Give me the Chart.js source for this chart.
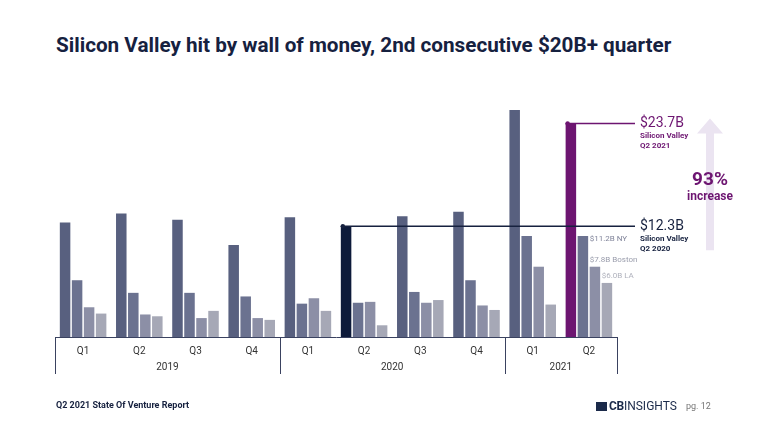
<!DOCTYPE html>
<html>
<head>
<meta charset="utf-8">
<script src="https://cdn.jsdelivr.net/npm/chart.js"></script>
<style>
  body { margin: 0; background: #fff; font-family: Roboto, sans-serif; }
  #wrap { position: relative; width: 768px; height: 432px; overflow: hidden; }
  #title { position: absolute; left: 56px; top: 33px; font-size: 20.7px; font-weight: 700; color: #16213f; white-space: nowrap; }
  #foot { position: absolute; left: 56px; top: 400px; font-size: 9px; font-weight: 700; color: #16213f; }
  #logo { position: absolute; left: 596px; top: 399px; font-size: 12px; color: #1b2a4a; white-space: nowrap; }
  #logo b { letter-spacing: -0.3px; }
  #logo .sq { display: inline-block; width: 11px; height: 9px; background: #1b2a4a; vertical-align: -1px; margin-right: 2px; }
  #pg { position: absolute; left: 686px; top: 401px; font-size: 9px; color: #777; }
  canvas { position: absolute; left: 0; top: 0; }
</style>
</head>
<body>
<div id="wrap">
  <div id="title">Silicon Valley hit by wall of money, 2nd consecutive $20B+ quarter</div>
  <canvas id="myChart" width="768" height="432"></canvas>
  <div id="foot">Q2 2021 State Of Venture Report</div>
  <div id="logo"><span class="sq"></span><b>CB</b>INSIGHTS</div>
  <div id="pg">pg. 12</div>
</div>
<script>
// data ($B)
const quarters = ['Q1', 'Q2', 'Q3', 'Q4', 'Q1', 'Q2', 'Q3', 'Q4', 'Q1', 'Q2'];
const years = ['2019', '2020', '2021'];
const yearSpans = [4, 4, 2];
const siliconValley = [12.7, 13.7, 13.0, 10.2, 13.3, 12.3, 13.4, 13.9, 25.2, 23.7];
const newYork = [6.3, 4.9, 4.9, 4.5, 3.7, 3.8, 5.0, 6.3, 11.2, 11.2];
const boston = [3.3, 2.5, 2.1, 2.1, 4.3, 3.9, 3.8, 3.5, 7.8, 7.8];
const losAngeles = [2.6, 2.3, 2.9, 1.9, 2.9, 1.3, 4.1, 3.0, 3.6, 6.0];
const cityNames = ['NY', 'Boston', 'LA'];

const navy = '#16213f';
const purple = '#6d1571';
const svColors = siliconValley.map((v, i) => i === 5 ? '#0d1a3a' : i === 9 ? purple : '#58607f');

// callouts, gridlines etc.
const annot = {
  id: 'annot',
  afterDraw(chart) {
    const {ctx, chartArea, scales: {x, y}} = chart;
    ctx.save();

    // year separators + labels
    const half = (x.getPixelForValue(1) - x.getPixelForValue(0)) / 2;
    ctx.strokeStyle = '#3a4260';
    ctx.lineWidth = 1;
    ctx.fillStyle = '#333';
    ctx.font = '10px Roboto';
    ctx.textAlign = 'center';
    ctx.textBaseline = 'middle';
    let start = 0;
    const edges = [chartArea.left];
    years.forEach((yr, k) => {
      const end = start + yearSpans[k];
      const x0 = x.getPixelForValue(start) - half;
      const x1 = x.getPixelForValue(end - 1) + half;
      edges.push(x1);
      ctx.fillText(yr, (x0 + x1) / 2, chartArea.bottom + 30);
      start = end;
    });
    edges.forEach(e => {
      const px = Math.round(e) + 0.5;
      ctx.beginPath();
      ctx.moveTo(px, chartArea.bottom);
      ctx.lineTo(px, chartArea.bottom + 37);
      ctx.stroke();
    });

    // Silicon Valley callouts
    const sv = chart.getDatasetMeta(0).data;
    const lineEnd = chartArea.right + 18;
    const textX = chartArea.right + 23;
    [[5, navy, 'Q2 2020'], [9, purple, 'Q2 2021']].forEach(([i, col, q]) => {
      const bar = sv[i];
      const left = bar.x - bar.width / 2;
      ctx.strokeStyle = col;
      ctx.lineWidth = 1.5;
      ctx.beginPath();
      ctx.moveTo(left, bar.y);
      ctx.lineTo(lineEnd, bar.y);
      ctx.stroke();
      ctx.fillStyle = col;
      ctx.beginPath();
      ctx.arc(left + 2, bar.y, 2.2, 0, Math.PI * 2);
      ctx.fill();
      ctx.textAlign = 'left';
      ctx.textBaseline = 'middle';
      ctx.font = '14px Roboto';
      ctx.fillText('$' + siliconValley[i].toFixed(1) + 'B', textX, bar.y);
      ctx.font = 'bold 8px Roboto';
      ctx.fillText('Silicon Valley', textX, bar.y + 13);
      ctx.fillText(q, textX, bar.y + 23);
    });

    // increase arrow
    const ax = chartArea.right + 93;
    const yBot = y.getPixelForValue(siliconValley[5]) + 24;
    const yTop = y.getPixelForValue(siliconValley[9]) - 5;
    ctx.fillStyle = '#ebe4f1';
    ctx.beginPath();
    ctx.moveTo(ax - 4, yBot);
    ctx.lineTo(ax - 4, yTop + 15);
    ctx.lineTo(ax - 13, yTop + 15);
    ctx.lineTo(ax, yTop);
    ctx.lineTo(ax + 13, yTop + 15);
    ctx.lineTo(ax + 4, yTop + 15);
    ctx.lineTo(ax + 4, yBot);
    ctx.closePath();
    ctx.fill();
    const pct = Math.round((siliconValley[9] / siliconValley[5] - 1) * 100);
    ctx.fillStyle = purple;
    ctx.textAlign = 'center';
    ctx.font = 'bold 19px Roboto';
    ctx.fillText(pct + '%', ax, 180);
    ctx.font = 'bold 12px Roboto';
    ctx.fillText('increase', ax, 197);

    // city labels on latest quarter
    const last = quarters.length - 1;
    const cityVals = [newYork, boston, losAngeles];
    const cityCols = ['#80849a', '#9a9dac', '#b0b2bd'];
    ctx.font = '8px Roboto';
    ctx.textAlign = 'left';
    cityVals.forEach((vals, k) => {
      const bar = chart.getDatasetMeta(k + 1).data[last];
      const nextLeft = k === 0 ? chart.getDatasetMeta(2).data[last].x - bar.width / 2 : bar.x - bar.width / 2;
      const ty = k === 0 ? bar.y + 3 : bar.y - 7;
      ctx.fillStyle = cityCols[k];
      ctx.fillText('$' + vals[last].toFixed(1) + 'B ' + cityNames[k], nextLeft, ty);
    });

    ctx.restore();
  }
};

const myChart = new Chart(document.getElementById('myChart'), {
  type: 'bar',
  data: {
    labels: quarters,
    datasets: [
      { label: 'Silicon Valley', data: siliconValley, backgroundColor: svColors },
      { label: 'New York', data: newYork, backgroundColor: '#6b7290' },
      { label: 'Boston', data: boston, backgroundColor: '#8c8fa6' },
      { label: 'Los Angeles', data: losAngeles, backgroundColor: '#a6a8b6' }
    ]
  },
  options: {
    responsive: false,
    animation: false,
    categoryPercentage: 0.855,
    barPercentage: 0.875,
    layout: { padding: { left: 55, right: 151, top: 100, bottom: 58 } },
    plugins: {
      legend: false,
      tooltip: { enabled: false }
    },
    scales: {
      x: {
        grid: { display: false, drawTicks: false },
        border: { display: true, color: '#3a4260', width: 1 },
        ticks: { color: '#333', font: { family: 'Roboto', size: 10 }, padding: 8 },
        afterFit: (s) => { s.height = 37; }
      },
      y: {
        display: false,
        min: 0,
        max: 26.3
      }
    }
  },
  plugins: [annot]
});
</script>
</body>
</html>
